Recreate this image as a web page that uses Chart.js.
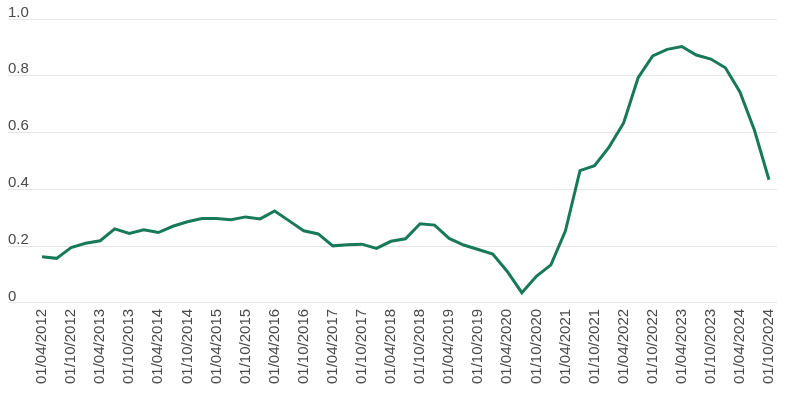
<!DOCTYPE html>
<html>
<head>
<meta charset="utf-8">
<script src="https://cdn.jsdelivr.net/npm/chart.js@4/dist/chart.umd.min.js"></script>
<style>
  body { margin: 0; background: #fff; }
  #wrap { width: 786px; height: 394px; }
</style>
</head>
<body>
<div id="wrap"><canvas id="chart" width="786" height="394"></canvas></div>
<script>
// Quarterly dates (only April / October are labelled on the axis)
const dates = [
    '01/04/2012', '01/07/2012', '01/10/2012', '01/01/2013',
    '01/04/2013', '01/07/2013', '01/10/2013', '01/01/2014',
    '01/04/2014', '01/07/2014', '01/10/2014', '01/01/2015',
    '01/04/2015', '01/07/2015', '01/10/2015', '01/01/2016',
    '01/04/2016', '01/07/2016', '01/10/2016', '01/01/2017',
    '01/04/2017', '01/07/2017', '01/10/2017', '01/01/2018',
    '01/04/2018', '01/07/2018', '01/10/2018', '01/01/2019',
    '01/04/2019', '01/07/2019', '01/10/2019', '01/01/2020',
    '01/04/2020', '01/07/2020', '01/10/2020', '01/01/2021',
    '01/04/2021', '01/07/2021', '01/10/2021', '01/01/2022',
    '01/04/2022', '01/07/2022', '01/10/2022', '01/01/2023',
    '01/04/2023', '01/07/2023', '01/10/2023', '01/01/2024',
    '01/04/2024', '01/07/2024', '01/10/2024'
];

const values = [
    0.163, 0.157, 0.195, 0.210, 0.219, 0.261, 0.245, 0.258,
    0.248, 0.270, 0.286, 0.297, 0.297, 0.293, 0.303, 0.296,
    0.324, 0.289, 0.254, 0.243, 0.201, 0.205, 0.207, 0.192,
    0.217, 0.226, 0.279, 0.274, 0.227, 0.204, 0.188, 0.172,
    0.111, 0.036, 0.094, 0.134, 0.254, 0.466, 0.483, 0.549,
    0.634, 0.793, 0.870, 0.893, 0.903, 0.873, 0.859, 0.828,
    0.743, 0.608, 0.434
];

const yTicks = [0, 0.2, 0.4, 0.6, 0.8, 1.0];

const textColor = '#4a4a4a';
const gridColor = '#e6e6e6';

const points = values.map((v, i) => ({ x: i, y: v }));

new Chart(document.getElementById('chart'), {
    type: 'line',
    data: {
        datasets: [{
            label: 'Series',
            data: points,
            borderColor: '#17785a',
            borderWidth: 3,
            pointRadius: 0,
            tension: 0,
            fill: false
        }]
    },
    options: {
        responsive: false,
        animation: false,
        layout: {
            padding: { top: 19, left: 8, right: 9, bottom: 4 }
        },
        plugins: {
            legend: { display: false },
            tooltip: { enabled: false }
        },
        scales: {
            x: {
                type: 'linear',
                min: -2.34,
                max: 50.55,
                grid: { display: false, drawTicks: false },
                border: { display: false },
                afterBuildTicks: function(scale) {
                    scale.ticks = dates
                        .map((d, i) => ({ value: i }))
                        .filter(t => t.value % 2 === 0);
                },
                // rotated labels fit inside the plot, don't let them pad it
                afterFit: function(scale) {
                    scale.paddingLeft = 0;
                    scale.paddingRight = 0;
                },
                ticks: {
                    autoSkip: false,
                    maxRotation: 90,
                    minRotation: 90,
                    padding: 6,
                    color: textColor,
                    font: { family: '"Liberation Sans", Arial, sans-serif', size: 15 },
                    callback: function(value) {
                        return dates[value];
                    }
                }
            },
            y: {
                min: 0,
                max: 1,
                afterBuildTicks: function(scale) {
                    scale.ticks = yTicks.map(v => ({ value: v }));
                },
                grid: { color: gridColor, lineWidth: 1, drawTicks: false },
                border: { display: false },
                ticks: {
                    mirror: true,
                    padding: 0,
                    labelOffset: -6.5,
                    color: textColor,
                    font: { family: '"Liberation Sans", Arial, sans-serif', size: 15 },
                    callback: function(value) {
                        return value === 0 ? '0' : value.toFixed(1);
                    }
                }
            }
        }
    }
});
</script>
</body>
</html>
